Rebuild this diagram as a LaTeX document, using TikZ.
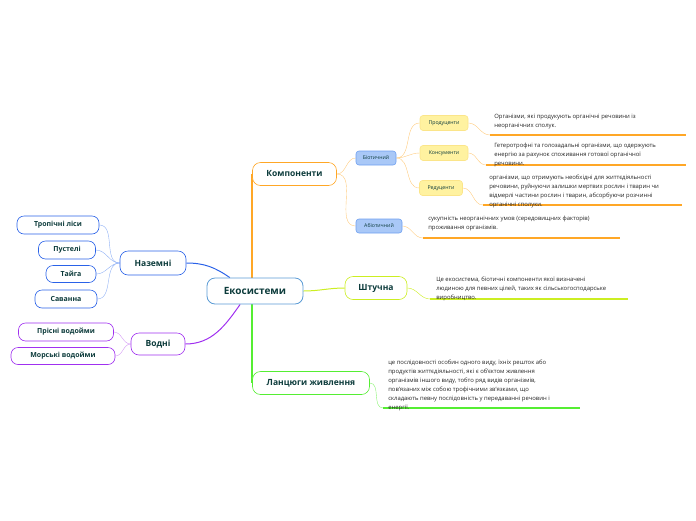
\documentclass[tikz,border=0pt]{standalone}
\usepackage{fontspec}
\setmainfont{Open Sans}
\usetikzlibrary{positioning,backgrounds}
\definecolor{titlecol}{HTML}{0C3B3B}
\definecolor{txtcol}{HTML}{262626}
\definecolor{ekosblue}{HTML}{5B9BD5}
\definecolor{landblue}{HTML}{2A62E8}
\definecolor{leafblue}{HTML}{8FB0F5}
\definecolor{waterpur}{HTML}{A030F0}
\definecolor{leafpur}{HTML}{D49AF5}
\definecolor{komporange}{HTML}{FFA726}
\definecolor{lightorange}{HTML}{FFCC80}
\definecolor{shtgreen}{HTML}{CCEE22}
\definecolor{lancgreen}{HTML}{55EE33}
\definecolor{biofill}{HTML}{A9C8F7}
\definecolor{bioline}{HTML}{6FA0F0}
\definecolor{redfill}{HTML}{FFF2A0}
\definecolor{redline}{HTML}{FBE58A}

\begin{document}
\begin{tikzpicture}[x=1pt,y=-1pt,semithick]
\tikzstyle{main}=[draw,rounded corners=8pt,fill=white,text=titlecol,font=\fontsize{8.5}{10}\selectfont\bfseries,inner sep=0pt]
\tikzstyle{leaf}=[draw,rounded corners=7pt,fill=white,text=titlecol,font=\fontsize{7}{9}\selectfont\bfseries,inner sep=0pt,minimum height=18pt]
\tikzstyle{small}=[rounded corners=3pt,text=titlecol,font=\fontsize{5.2}{6}\selectfont,inner sep=0pt,minimum height=15pt]
\tikzstyle{desc}=[text=txtcol,font=\fontsize{5.9}{9}\selectfont,align=left,inner sep=0pt,anchor=north west]
\tikzstyle{uline}=[line width=1.4pt]
\useasboundingbox (0,0) rectangle (696,520);

% centre and main branches
\node[main,draw=ekosblue,line width=0.8pt,minimum width=96pt,minimum height=26pt,font=\fontsize{10}{12}\selectfont\bfseries] (ekos) at (255,291) {Екосистеми};
\node[main,draw=komporange,minimum width=84pt,minimum height=23pt] (komp) at (294.5,174) {Компоненти};
\node[main,draw=shtgreen,minimum width=62pt,minimum height=23pt] (shtuch) at (376,288) {Штучна};
\node[main,draw=lancgreen,minimum width=117pt,minimum height=23pt] (lanc) at (311,383) {Ланцюги живлення};
\node[main,draw=landblue,minimum width=66pt,minimum height=24pt] (nazem) at (153,263) {Наземні};
\node[main,draw=waterpur,minimum width=54pt,minimum height=22pt] (vodni) at (158,344) {Водні};

% leaves on the left
\node[leaf,draw=landblue,minimum width=82pt] (trop) at (58,225) {Тропічні ліси};
\node[leaf,draw=landblue,minimum width=57pt] (pust) at (67,250) {Пустелі};
\node[leaf,draw=landblue,minimum width=50pt,minimum height=17pt] (taiga) at (71,274) {Тайга};
\node[leaf,draw=landblue,minimum width=62pt] (savan) at (66,299) {Саванна};
\node[leaf,draw=waterpur,minimum width=95pt] (prisni) at (66,332) {Прісні водойми};
\node[leaf,draw=waterpur,minimum width=104pt,minimum height=17pt] (morski) at (63,356) {Морські водойми};

% components
\node[small,draw=bioline,fill=biofill,minimum width=40pt,minimum height=14pt] (bio) at (376,158) {Біотичний};
\node[small,draw=bioline,fill=biofill,minimum width=46pt,minimum height=14pt] (abio) at (379,226) {Абіотичний};
\node[small,draw=redline,fill=redfill,minimum width=48pt] (prod) at (444,123) {Продуценти};
\node[small,draw=redline,fill=redfill,minimum width=48pt] (kons) at (444,153) {Консументи};
\node[small,draw=redline,fill=redfill,minimum width=43pt] (redu) at (441,188) {Редуценти};

% descriptions
\node[desc] (tprod) at (494,114) {Організми, які продукують органічні речовини із\\неорганічних сполук.};
\node[desc] (tkons) at (494,143) {Гетеротрофні та голозадальні організми, що одержують\\енергію за рахунок споживання готової органічної\\речовини.};
\node[desc] (tredu) at (489,175) {організми, що отримують необхідні для життєдіяльності\\речовини, руйнуючи залишки мертвих рослин і тварин чи\\відмерлі частини рослин і тварин, абсорбуючи розчинні\\органічні сполуки.};
\node[desc] (tabio) at (428,216) {сукупність неорганічних умов (середовищних факторів)\\проживання організмів.};
\node[desc] (tshtuch) at (436,277) {Це екосистема, біотичні компоненти якої визначені\\людиною для певних цілей, таких як сільськогосподарське\\виробництво.};
\node[desc] (tlanc) at (388,360) {це послідовності особин одного виду, їхніх решток або\\продуктів життєдіяльності, які є об'єктом живлення\\організмів іншого виду, тобто ряд видів організмів,\\пов'язаних між собою трофічними зв'язками, що\\складають певну послідовність у передаванні речовин і\\енергії.};

% underline ends
\coordinate (uprodA) at (490,135);  \coordinate (uprodB) at (686,135);
\coordinate (ukonsA) at (486,165);  \coordinate (ukonsB) at (686,165);
\coordinate (ureduA) at (483,205);  \coordinate (ureduB) at (682,205);
\coordinate (uabioA) at (423,238);  \coordinate (uabioB) at (620,238);
\coordinate (ushtA) at (430,299);   \coordinate (ushtB) at (628,299);
\coordinate (ulancA) at (383,408);  \coordinate (ulancB) at (580,408);

\begin{scope}[on background layer]
% main connectors
\draw[komporange,line width=1.5pt] (komp.west |- ekos.north) -- (komp.west);
\draw[lancgreen,line width=1.5pt] (lanc.west |- ekos.south) -- (lanc.west);
\draw[shtgreen,line width=1pt] (ekos.east) to[out=0,in=180] (shtuch.west);
\draw[landblue,line width=1pt] (nazem.east) to[out=0,in=145] (ekos.152);
\draw[waterpur,line width=1pt] (vodni.east) to[out=0,in=235] (ekos.222);

% leaf connectors
\foreach \l in {trop,pust,taiga,savan}
  \draw[leafblue,thin] (nazem.west) to[out=180,in=0] (\l.east);
\foreach \l in {prisni,morski}
  \draw[leafpur,thin] (vodni.west) to[out=180,in=0] (\l.east);

% component connectors
\draw[lightorange,thin] (komp.east) to[out=0,in=180] (bio.west);
\draw[lightorange,thin] (komp.east) to[out=0,in=180] (abio.west);
\foreach \l in {prod,kons,redu}
  \draw[lightorange,thin] (bio.east) to[out=0,in=180] (\l.west);

% description connectors
\draw[lightorange,thin] (prod.east) to[out=0,in=180] (uprodA);
\draw[lightorange,thin] (kons.east) to[out=0,in=180] (ukonsA);
\draw[lightorange,thin] (redu.east) to[out=0,in=180] (ureduA);
\draw[lightorange,thin] (abio.east) to[out=0,in=180] (uabioA);
\draw[shtgreen,thin] (shtuch.east) to[out=0,in=180] (ushtA);
\draw[lancgreen!70,thin] (lanc.east) to[out=0,in=180] (ulancA);
\draw[komporange,uline] (uprodA) -- (uprodB);
\draw[komporange,uline] (ukonsA) -- (ukonsB);
\draw[komporange,uline] (ureduA) -- (ureduB);
\draw[komporange,uline] (uabioA) -- (uabioB);
\draw[shtgreen,uline] (ushtA) -- (ushtB);
\draw[lancgreen,uline] (ulancA) -- (ulancB);
\end{scope}
\end{tikzpicture}
\end{document}
